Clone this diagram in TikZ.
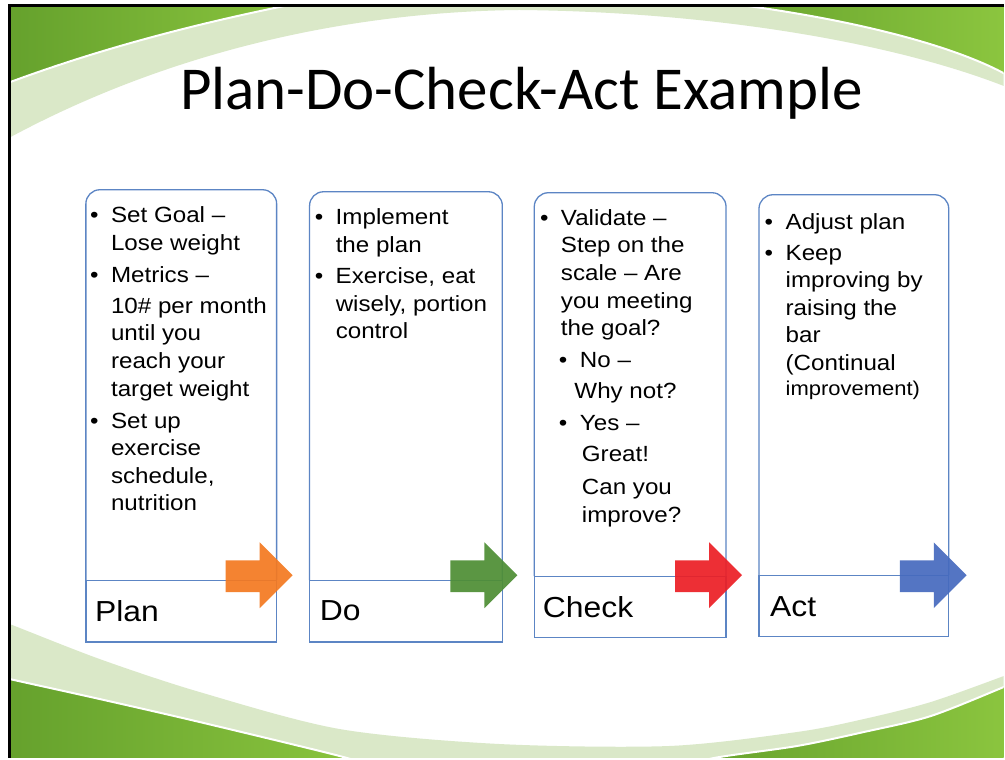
\documentclass[tikz,border=0pt]{standalone}
\usepackage{fontspec}
\setmainfont{Liberation Sans}
\newfontfamily\bodyfont[FakeStretch=1.1]{Liberation Sans}
\newfontfamily\titlefont{Carlito}
\usetikzlibrary{positioning}

\definecolor{leafdark}{RGB}{100,160,44}
\definecolor{leaflight}{RGB}{140,198,63}
\definecolor{leafpale}{RGB}{218,232,200}
\definecolor{boxblue}{RGB}{92,133,196}
\definecolor{plancol}{RGB}{244,121,32}
\definecolor{docol}{RGB}{78,142,52}
\definecolor{checkcol}{RGB}{236,30,36}
\definecolor{actcol}{RGB}{70,106,190}

\newcommand\bul{\leavevmode\llap{\textbullet\hspace{12.5pt}}}

\begin{document}
\begin{tikzpicture}[x=1pt,y=-1pt]
        \tikzstyle{every node}+=[inner sep=0pt]
        \tikzstyle{stepframe}=[boxblue, line width=1.3pt]
        \tikzstyle{bodytext}=[anchor=base west, font=\bodyfont\fontsize{22}{27.6}\selectfont]
        \tikzstyle{steplabel}=[anchor=base west, font=\bodyfont\fontsize{29}{34}\selectfont]
        \tikzstyle{blockarrow}=[opacity=0.92]
        \tikzstyle{swoosh}=[draw=white, line width=2pt, left color=leafdark, right color=leaflight]
        \fill [white] (0,0) rectangle (1005,759);
        % green bands, top and bottom
        \begin{scope}
        \clip (9.7,5.3) rectangle (1005,759);
        \fill [leafpale] (0,0) -- (1010,0) -- (1010,88) .. controls (900,44) and (720,12) .. (520,10) .. controls (330,12) and (150,60) .. (0,143) -- cycle;
        \path [swoosh] (0,0) -- (315,0) .. controls (200,22) and (95,50) .. (0,86) -- cycle;
        \path [swoosh] (1010,0) -- (700,0) .. controls (830,14) and (950,42) .. (1010,76) -- cycle;
        \fill [leafpale] plot [smooth] coordinates {(0,622) (10,625) (100,660) (200,693) (340,730) (500,745) (670,747) (798,733) (865,720) (932,703) (1005,677) (1012,674)} -- (1012,770) -- (0,770) -- cycle;
        \path [swoosh] plot [smooth] coordinates {(0,677) (10,680) (100,700) (200,723) (340,757) (380,770)} -- (0,770) -- cycle;
        \path [swoosh] plot [smooth] coordinates {(680,770) (715,759) (798,747) (865,733) (932,717) (1005,688) (1012,685)} -- (1012,770) -- cycle;
        \end{scope}
        \draw [black, line width=2.7pt] (9.7,759) -- (9.7,5.3) -- (1005,5.3);

        \node [font=\titlefont\fontsize{61}{70}\selectfont, anchor=base] (title) at (522,110) {Plan-Do-Check-Act Example};

        \foreach \l/\r/\t/\m/\b in {86/277/190/581/643, 310/503/192/581/643, 535/727/193/577/638.5, 760/950/195/576/637.5}
        {
        \draw [stepframe, rounded corners=14pt] (\l,\m) -- (\l,\t) -- (\r,\t) -- (\r,\m);
        \draw [stepframe] (\l,\m) rectangle (\r,\b);
        }

        \node [bodytext] (plantext) at (111,223) {\parbox[t]{200pt}{\raggedright
        \bul Set Goal –\\Lose weight\\[4.5pt]
        \bul Metrics –\\[3.5pt]
        10\# per month\\until you\\reach your\\target weight\\[4.5pt]
        \bul Set up\\exercise\\schedule,\\nutrition}};
        \node [bodytext] (dotext) at (336,225) {\parbox[t]{200pt}{\raggedright
        \bul Implement\\the plan\\[4pt]
        \bul Exercise, eat\\wisely, portion\\control}};
        \node [bodytext] (checktext) at (561.5,225.7) {\parbox[t]{200pt}{\raggedright
        \bul Validate –\\Step on the\\scale – Are\\you meeting\\the goal?\\[4.5pt]
        \hspace*{19pt}\bul No –\\[3.5pt]
        \hspace*{13.5pt}Why not?\\[4pt]
        \hspace*{19pt}\bul Yes –\\[4pt]
        \hspace*{21pt}Great!\\[5pt]
        \hspace*{21pt}Can you\\
        \hspace*{21pt}improve?}};
        \node [bodytext] (acttext) at (786.5,229.5) {\parbox[t]{200pt}{\raggedright
        \bul Adjust plan\\[3.5pt]
        \bul Keep\\improving by\\raising the\\bar\\(Continual\\[-2.6pt]
        {\fontsize{20}{24}\selectfont improvement)}}};

        \node [steplabel] (plan) at (95,622.5) {Plan};
        \node [steplabel] (do) at (320,621.5) {Do};
        \node [steplabel] (check) at (543.5,618.3) {Check};
        \node [steplabel] (act) at (771,617.3) {Act};

        \foreach \x/\c in {226/plancol, 451/docol, 676/checkcol, 901/actcol}
        \fill [\c, blockarrow] (\x,561) -- ++(34,0) -- ++(0,-18) -- ++(33,33) -- ++(-33,33) -- ++(0,-16) -- ++(-34,0) -- cycle;
\end{tikzpicture}
\end{document}
